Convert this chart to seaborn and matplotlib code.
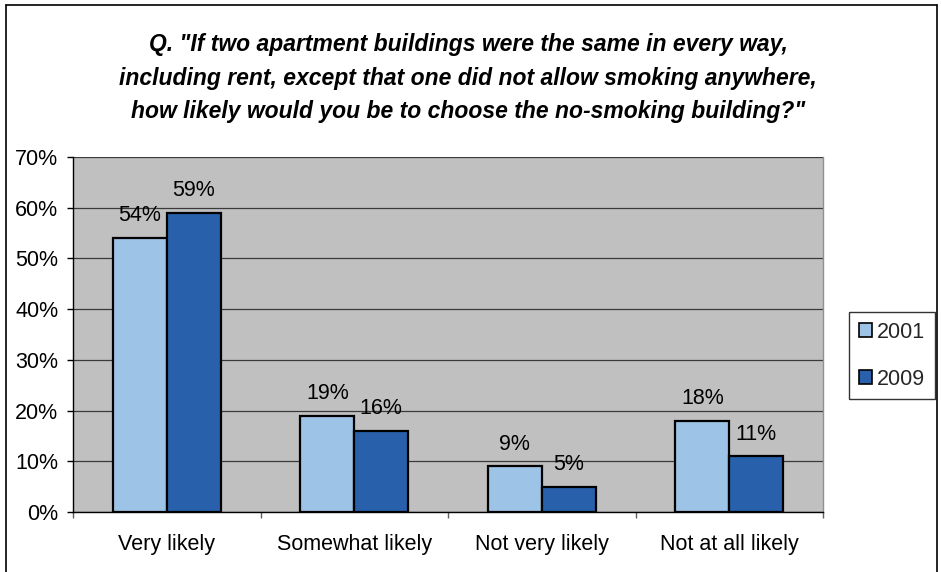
import matplotlib
matplotlib.use("Agg")
import matplotlib.pyplot as plt
from matplotlib.lines import Line2D
from matplotlib.patches import Patch
import seaborn as sns
import pandas as pd

categories = ["Very likely", "Somewhat likely", "Not very likely", "Not at all likely"]
years = ["2001", "2009"]
values_2001 = [54, 19, 9, 18]
values_2009 = [59, 16, 5, 11]
y_ticks = [0, 10, 20, 30, 40, 50, 60, 70]
title = ('Q. "If two apartment buildings were the same in every way,\n'
         'including rent, except that one did not allow smoking anywhere,\n'
         'how likely would you be to choose the no-smoking building?"')
colors = {"2001": "#9DC3E6", "2009": "#2860AC"}

df = pd.DataFrame({
    "category": categories * 2,
    "year": [years[0]] * len(categories) + [years[1]] * len(categories),
    "value": values_2001 + values_2009,
})

sns.set_theme(style="white")
plt.rcParams["font.family"] = ["Liberation Sans", "DejaVu Sans"]

W, H = 941, 572
FS = 15.5
fig = plt.figure(figsize=(W / 100, H / 100), dpi=100)
ax = fig.add_axes([73 / W, 1 - 512 / H, (823 - 73) / W, (512 - 157) / H])
ax.set_facecolor("#C0C0C0")

sns.barplot(data=df, x="category", y="value", hue="year", order=categories,
            hue_order=years, palette=colors, width=0.576, saturation=1,
            edgecolor="black", linewidth=1.6, ax=ax, legend=False, zorder=3)

ax.set_ylim(0, 70)
ax.set_xlim(-0.5, len(categories) - 0.5)
ax.set_yticks(y_ticks)
ax.set_yticklabels([f"{t}%" for t in y_ticks])
ax.yaxis.grid(True, color="#3a3a3a", linewidth=0.9, zorder=0)
ax.set_axisbelow(True)
ax.set_xlabel("")
ax.set_ylabel("")

ax.tick_params(axis="y", which="major", direction="out", length=4.5, width=1,
               color="black", pad=6, labelsize=FS, left=True)
ax.tick_params(axis="x", which="major", length=0, pad=16, labelsize=FS)
ax.set_xticks([i - 0.5 for i in range(len(categories) + 1)], minor=True)
ax.tick_params(axis="x", which="minor", direction="out", length=4.5, width=1,
               color="#606060", bottom=True)
for lbl in ax.get_xticklabels() + ax.get_yticklabels():
    lbl.set_color("black")

for side in ["left", "bottom"]:
    ax.spines[side].set_color("black")
    ax.spines[side].set_linewidth(1)
ax.spines["top"].set_visible(False)
ax.spines["right"].set_color("#909090")
ax.spines["right"].set_linewidth(1)

for cont in ax.containers:
    for bar in cont:
        h = bar.get_height()
        ax.annotate(f"{h:.0f}%", (bar.get_x() + bar.get_width() / 2, h),
                    xytext=(0, 12), textcoords="offset points",
                    ha="center", va="baseline", fontsize=FS, color="black",
                    zorder=5)

fig.text(468 / W, 1 - 78 / H, title, ha="center", va="center",
         fontsize=16.5, fontweight="bold", fontstyle="italic",
         linespacing=1.58, color="black")

handles = [Patch(facecolor=colors[y], edgecolor="black", linewidth=1.2, label=y)
           for y in years]
leg = fig.legend(handles=handles, loc="upper left",
                 bbox_to_anchor=(849 / W, 1 - 312 / H), frameon=True,
                 fontsize=FS, handlelength=0.6, handleheight=0.6,
                 handletextpad=0.25, labelspacing=1.2, borderpad=0.45,
                 fancybox=False, borderaxespad=0)
leg.get_frame().set_edgecolor("black")
leg.get_frame().set_linewidth(1)

# outer chart border
lc = "black"
fig.add_artist(Line2D([6 / W, 6 / W], [0, 1 - 5 / H], color=lc, lw=1.2,
                      transform=fig.transFigure))
fig.add_artist(Line2D([6 / W, 937 / W], [1 - 5 / H, 1 - 5 / H], color=lc, lw=1.2,
                      transform=fig.transFigure))
fig.add_artist(Line2D([937 / W, 937 / W], [0, 1 - 5 / H], color=lc, lw=1.2,
                      transform=fig.transFigure))

fig.savefig("out.png", dpi=100, facecolor="white")
